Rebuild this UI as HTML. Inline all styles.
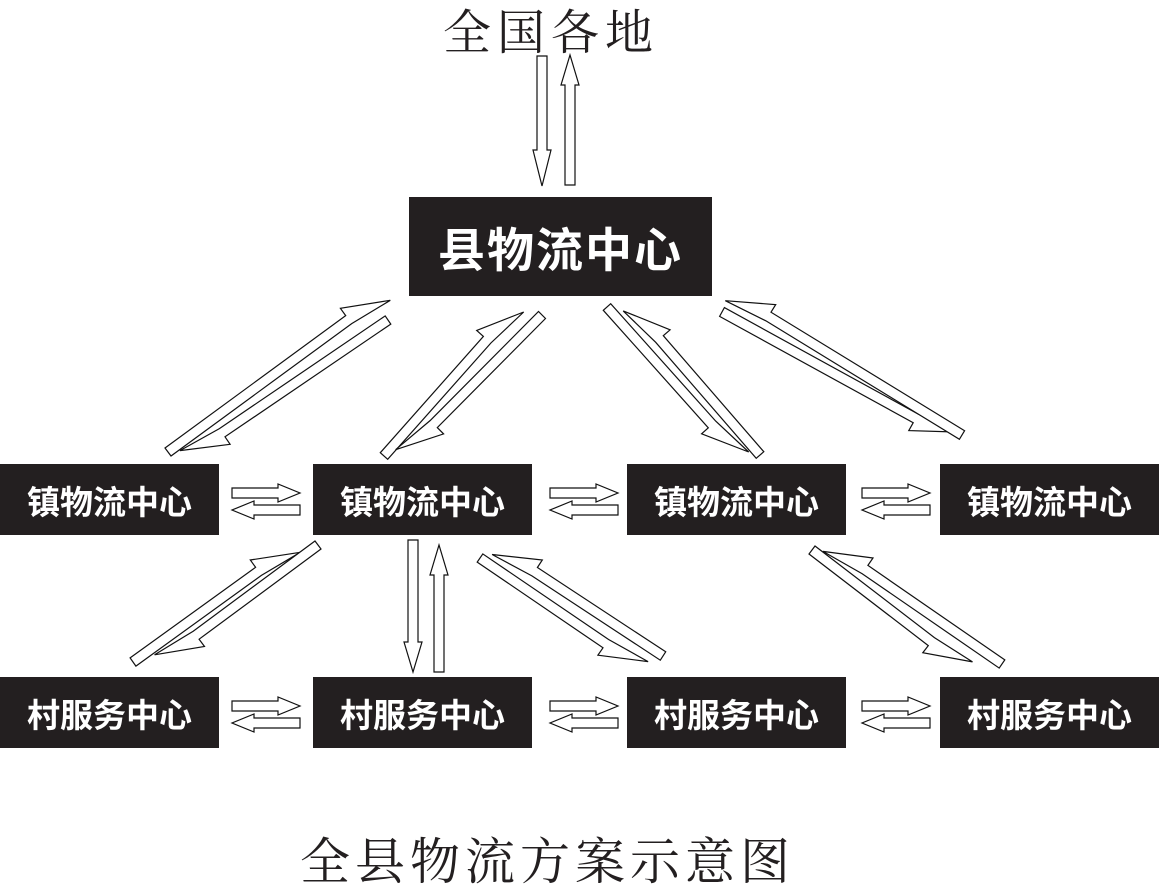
<!DOCTYPE html>
<html><head><meta charset="utf-8">
<style>
html,body{margin:0;padding:0;background:#fff;}
body{width:1160px;height:879px;position:relative;overflow:hidden;font-family:"Liberation Serif","Noto Serif CJK SC",serif;}
.box{position:absolute;background:#231f20;color:#fff;font-family:"Liberation Sans","Noto Sans CJK SC",sans-serif;font-weight:bold;display:flex;align-items:center;justify-content:center;}
.t{position:absolute;white-space:nowrap;color:#231f20;}
.s{font-size:33px;}
svg{position:absolute;left:0;top:0;}
</style></head><body>
<div class="t" style="left:443px;top:-6px;font-size:48px;letter-spacing:6px;">全国各地</div>
<div class="t" style="left:300px;top:822px;font-size:50px;letter-spacing:5px;">全县物流方案示意图</div>
<div class="box" style="left:409px;top:197px;width:303px;height:99px;font-size:47px;letter-spacing:2px;">县物流中心</div>
<div class="box s" style="left:0;top:464px;width:219px;height:71px;">镇物流中心</div>
<div class="box s" style="left:313px;top:464px;width:219px;height:71px;">镇物流中心</div>
<div class="box s" style="left:627px;top:464px;width:219px;height:71px;">镇物流中心</div>
<div class="box s" style="left:940px;top:464px;width:219px;height:71px;">镇物流中心</div>
<div class="box s" style="left:0;top:677px;width:219px;height:71px;">村服务中心</div>
<div class="box s" style="left:313px;top:677px;width:219px;height:71px;">村服务中心</div>
<div class="box s" style="left:627px;top:677px;width:219px;height:71px;">村服务中心</div>
<div class="box s" style="left:940px;top:677px;width:219px;height:71px;">村服务中心</div>
<svg id="s" width="1160" height="879"></svg>
<script>
var s=document.getElementById('s'),out='';
function arrow(x1,y1,x2,y2,w,hw,hl,side){
 var dx=x2-x1,dy=y2-y1,L=Math.hypot(dx,dy),ux=dx/L,uy=dy/L,nx=-uy,ny=ux;
 var bx=x2-ux*hl,by=y2-uy*hl,h=w/2;
 function P(x,y,n){return [x+nx*n,y+ny*n];}
 var pts;
 if(side===0){pts=[P(x1,y1,h),P(bx,by,h),P(bx,by,hw),[x2,y2],P(bx,by,-hw),P(bx,by,-h),P(x1,y1,-h)];}
 else{pts=[P(x1,y1,side*h),P(bx,by,side*h),P(bx,by,side*hw),P(x2,y2,-side*(h+4)),P(bx,by,-side*h),P(x1,y1,-side*h)];}
 out+='<polygon points="'+pts.map(function(p){return p[0].toFixed(1)+','+p[1].toFixed(1)}).join(' ')+'" fill="#fff" stroke="#111" stroke-width="1.2"/>';
}
function pair(a,b){
 [[a,b],[b,a]].forEach(function(q){var p=q[0],o=q[1];
  var dx=p[2]-p[0],dy=p[3]-p[1],L=Math.hypot(dx,dy),nx=-dy/L,ny=dx/L;
  var mx=(p[0]+p[2])/2,my=(p[1]+p[3])/2,ox=(o[0]+o[2])/2,oy=(o[1]+o[3])/2;
  var side=((ox-mx)*nx+(oy-my)*ny)>0?-1:1;
  arrow(p[0],p[1],p[2],p[3],10,14,45,side);});
}
arrow(542,56,542,186,10,9,36,0);
arrow(570,185,570,55,10,9,30,0);
pair([168,452,385,293],[388,320,185,458]);
pair([384,456,517,306],[542,315,402,456]);
pair([607,307,742,458],[760,455,630,305]);
pair([722,312,955,440],[962,435,730,293]);
pair([133,662,295,545],[318,545,160,662]);
arrow(413,540,413,672,10,9,30,0);
arrow(439,672,439,545,10,9,30,0);
pair([480,558,643,669],[663,656,497,547]);
pair([812,550,967,669],[1002,664,828,544]);
[[232,300],[550,618],[862,930]].forEach(function(r){
 [493,706].forEach(function(y){
  arrow(r[0],y,r[1],y,10,9,22,0);
  arrow(r[1],y+17,r[0],y+17,10,9,22,0);
 });
});
s.innerHTML=out;
</script>
</body></html>
